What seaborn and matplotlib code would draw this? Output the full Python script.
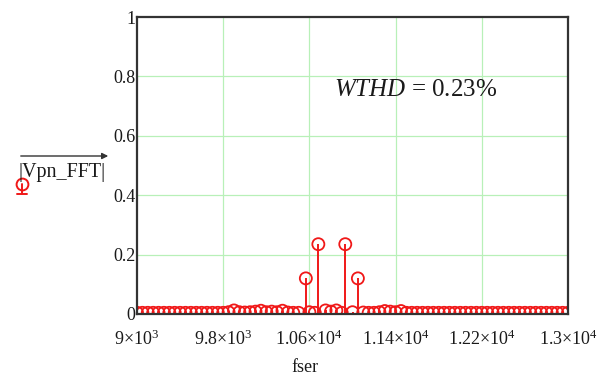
import numpy as np
import pandas as pd
import matplotlib
matplotlib.use("Agg")
import matplotlib.pyplot as plt
from matplotlib.lines import Line2D
import seaborn as sns

# ---------------- data ----------------
fser = [9000, 9050, 9100, 9150, 9200, 9250, 9300, 9350, 9400, 9450,
        9500, 9550, 9600, 9650, 9700, 9750, 9800, 9850, 9900, 9950,
        10000, 10050, 10100, 10150, 10200, 10250, 10300, 10350, 10400, 10450,
        10500, 10567, 10600, 10650, 10683, 10750, 10800, 10850, 10900, 10933,
        11000, 11050, 11100, 11150, 11200, 11250, 11300, 11350, 11400, 11450,
        11500, 11550, 11600, 11650, 11700, 11750, 11800, 11850, 11900, 11950,
        12000, 12050, 12100, 12150, 12200, 12250, 12300, 12350, 12400, 12450,
        12500, 12550, 12600, 12650, 12700, 12750, 12800, 12850, 12900, 12950,
        13000]
vpn_fft = [0.004, 0.004, 0.004, 0.004, 0.004, 0.004, 0.004, 0.004, 0.004, 0.004,
           0.004, 0.004, 0.004, 0.004, 0.004, 0.004, 0.004, 0.006, 0.012, 0.006,
           0.005, 0.006, 0.008, 0.011, 0.006, 0.008, 0.006, 0.011, 0.005, 0.004,
           0.004, 0.120, 0.006, 0.004, 0.235, 0.012, 0.008, 0.012, 0.004, 0.235,
           0.006, 0.120, 0.005, 0.004, 0.004, 0.006, 0.010, 0.008, 0.006, 0.010,
           0.004, 0.004, 0.004, 0.004, 0.004, 0.004, 0.004, 0.004, 0.004, 0.004,
           0.004, 0.004, 0.004, 0.004, 0.004, 0.004, 0.004, 0.004, 0.004, 0.004,
           0.004, 0.004, 0.004, 0.004, 0.004, 0.004, 0.004, 0.004, 0.004, 0.004,
           0.004]
xticks = [9000, 9800, 10600, 11400, 12200, 13000]
xtick_labels = [r"$9×10^{3}$", r"$9.8×10^{3}$", r"$1.06×10^{4}$",
                r"$1.14×10^{4}$", r"$1.22×10^{4}$", r"$1.3×10^{4}$"]
yticks = [0, 0.2, 0.4, 0.6, 0.8, 1]
ytick_labels = ["0", "0.2", "0.4", "0.6", "0.8", "1"]
annotation = r"$\mathit{WTHD}$ = 0.23%"

df = pd.DataFrame({"fser": fser, "Vpn_FFT": vpn_fft})

# ---------------- style ----------------
sns.set_style("white")
plt.rcParams["font.family"] = ["Liberation Serif", "DejaVu Serif"]
plt.rcParams["mathtext.fontset"] = "custom"
plt.rcParams["mathtext.rm"] = "Liberation Serif"
plt.rcParams["mathtext.it"] = "Liberation Serif:italic"

W, H = 613, 375
fig = plt.figure(figsize=(W / 100, H / 100), dpi=100)
ax = fig.add_axes([137 / W, 1 - 314 / H, (568 - 137) / W, (314 - 17) / H])

RED = "#f01818"
GRID = "#b8f0b8"
TXT = "#1a1a1a"

for gx in xticks[1:-1]:
    ax.axvline(gx, color=GRID, lw=0.9, zorder=0)
for gy in yticks[1:-1]:
    ax.axhline(gy, color=GRID, lw=0.9, zorder=0)

ax.vlines(df["fser"], 0, df["Vpn_FFT"], color=RED, lw=1.4, zorder=2)
sns.scatterplot(data=df, x="fser", y="Vpn_FFT", ax=ax, marker="o", s=75,
                facecolor="none", edgecolor=RED, linewidth=1.3, zorder=3,
                legend=False)

ax.set_xlim(9000, 13000)
ax.set_ylim(0, 1)
ax.set_xticks(xticks)
ax.set_xticklabels(xtick_labels, fontsize=13)
ax.set_yticks(yticks)
ax.set_yticklabels(ytick_labels, fontsize=13)
ax.tick_params(axis="both", length=0, colors=TXT)
ax.tick_params(axis="x", pad=11)
ax.tick_params(axis="y", pad=1)
ax.set_xlabel("")
ax.set_ylabel("")
for s in ax.spines.values():
    s.set_color("#333333")
    s.set_linewidth(1.6)
    s.set_zorder(4)

ax.text(0.458, 0.755, annotation, transform=ax.transAxes, fontsize=18,
        ha="left", va="center", color=TXT)

# x label (partly cut at the bottom like the reference)
fig.text(305 / W, 1 - 368 / H, "fser", fontsize=13, ha="center", va="center",
         color=TXT)

# y label block: vector arrow, |Vpn_FFT| and the legend marker
def fx(px):
    return px / W

def fy(py):
    return 1 - py / H

fig.add_artist(matplotlib.patches.FancyArrowPatch(
    (fx(18), fy(156)), (fx(111), fy(156)), transform=fig.transFigure,
    arrowstyle="-|>", mutation_scale=9, color="#333333", lw=1.0))
fig.text(fx(18), fy(172), "|Vpn_FFT|", fontsize=14.5, ha="left", va="center",
         color=TXT)
fig.add_artist(Line2D([fx(22)], [fy(184)], marker="o", markersize=8.5,
                      markerfacecolor="none", markeredgecolor=RED,
                      markeredgewidth=1.4, transform=fig.transFigure))
fig.add_artist(Line2D([fx(22), fx(22)], [fy(184), fy(194)], color=RED, lw=1.4,
                      transform=fig.transFigure))
fig.add_artist(Line2D([fx(17), fx(27)], [fy(194), fy(194)], color=RED, lw=1.4,
                      transform=fig.transFigure))

fig.savefig("out.png", dpi=100)
